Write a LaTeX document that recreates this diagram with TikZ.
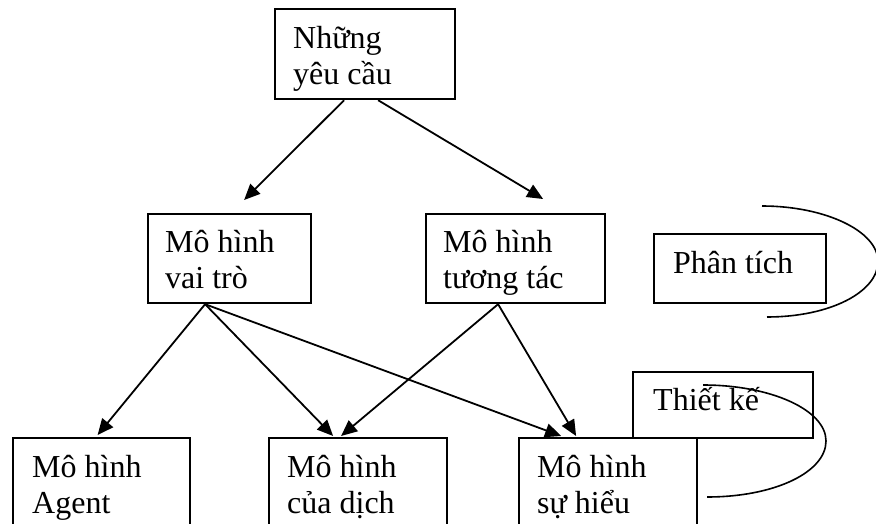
\documentclass[tikz,border=0pt]{standalone}
\usepackage{fontspec}
\setmainfont{Liberation Serif}
\usetikzlibrary{arrows.meta,calc}

\tikzset{
  box/.style={draw, line width=2.2pt, inner sep=0pt, anchor=north west},
  label text/.style={inner sep=0pt, anchor=base west,
    font=\fontsize{32}{36}\selectfont},
  link/.style={line width=1.8pt, -{Triangle[length=16pt,width=14pt]}},
  loop/.style={line width=1.6pt}
}

\begin{document}
\begin{tikzpicture}[x=1pt,y=-1pt]
  \clip (0,0) rectangle (876,524);

  % boxes
  \node[box, minimum width=180pt, minimum height=90pt]  (req) at (274,8)   {};
  \node[box, minimum width=163pt, minimum height=89pt]  (role) at (147,213) {};
  \node[box, minimum width=179pt, minimum height=89pt]  (inter) at (425,213) {};
  \node[box, minimum width=172pt, minimum height=69pt]  (ana) at (653,233) {};
  \node[box, minimum width=180pt, minimum height=66pt]  (des) at (632,371) {};
  \node[box, minimum width=177pt, minimum height=110pt] (agent) at (12,437) {};
  \node[box, minimum width=178pt, minimum height=110pt] (serv) at (268,437) {};
  \node[box, minimum width=178pt, minimum height=110pt] (acq) at (518,437) {};

  % box texts
  \node[label text] (req-t)   at (293,49)  {\vtop{\hbox{Những}\hbox{yêu cầu}}};
  \node[label text] (role-t)  at (165,252) {\vtop{\hbox{Mô hình}\hbox{vai trò}}};
  \node[label text] (inter-t) at (443,252) {\vtop{\hbox{Mô hình}\hbox{tương tác}}};
  \node[label text] (ana-t)   at (673,273) {Phân tích};
  \node[label text] (des-t)   at (653,410) {Thiết kế};
  \node[label text] (agent-t) at (32,477)  {\vtop{\hbox{Mô hình}\hbox{Agent}}};
  \node[label text] (serv-t)  at (287,477) {\vtop{\hbox{Mô hình}\hbox{của dịch}}};
  \node[label text] (acq-t)   at (537,477) {\vtop{\hbox{Mô hình}\hbox{sự hiểu}}};

  % requirements to the two models
  \draw[link] ($(req.south)+(-21,0)$) -- ($(role.north)+(14.5,-13)$);
  \draw[link] ($(req.south)+(13,0)$)  -- ($(inter.north)+(27.5,-14)$);

  % role model to the lower models
  \draw[link] ($(role.south)+(-24.5,0)$) -- ($(agent.north)+(-4,-2)$);
  \draw[link] ($(role.south)+(-24.5,0)$) -- ($(serv.north)+(-25,-1)$);
  \draw[link] ($(role.south)+(-24.5,0)$) -- ($(acq.north)+(-47,-1)$);

  % interaction model to the lower models
  \draw[link] ($(inter.south)+(-17.5,0)$) -- ($(serv.north)+(-17,-1)$);
  \draw[link] ($(inter.south)+(-17.5,0)$) -- ($(acq.north)+(-32,-1)$);

  % bracket arcs of the two phases
  \draw[loop] (762,206) .. controls (825,206) and (878,231) .. (878,261.5)
                        .. controls (878,292) and (830,317) .. (767,317);
  \draw[loop] (703,385) .. controls (771,385) and (826,410) .. (826,441)
                        .. controls (826,472) and (775,497) .. (707,497);
\end{tikzpicture}
\end{document}
